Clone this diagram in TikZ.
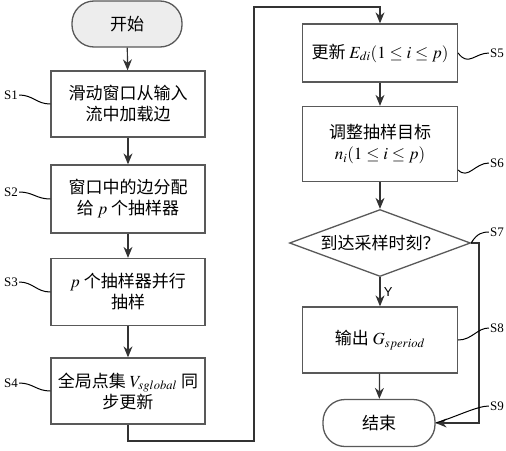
\documentclass[tikz,border=0pt]{standalone}
\usepackage{mathptmx}
\usepackage{fontspec}
\setmainfont{Liberation Serif}
\newfontfamily\cjk{Noto Sans CJK SC}
\newfontfamily\lsans{Liberation Sans}
\usetikzlibrary{positioning, arrows.meta, shapes.geometric}

\begin{document}
\begin{tikzpicture}[
                x=1pt, y=-1pt,
                >={Stealth[length=11pt, width=9pt]},
                line/.style={draw=black!80, line width=1.2pt},
                flow/.style={line, ->},
                proc/.style={rectangle, draw=black!65, line width=1.3pt, fill=white, minimum width=154pt,
                    align=center, inner sep=0pt, font=\cjk\fontsize{17}{21}\selectfont},
                term/.style={proc, rounded corners=22pt, minimum width=110pt, minimum height=46pt},
                decision/.style={proc, diamond, aspect=2.7, minimum width=181pt, minimum height=67pt},
                tag/.style={font=\fontsize{13}{15}\selectfont, inner sep=1pt},
                lead/.style={draw=black, line width=1pt},
            ]
                \useasboundingbox (0,0) rectangle (506,450);

                % Left column
                \node[term, fill=black!7] (start) at (127,24) {开始};
                \node[proc, minimum height=66pt] (b1) at (128,104) {滑动窗口从输入\\流中加载边};
                \node[proc, minimum height=68pt] (b2) at (128,199) {窗口中的边分配\\给 $p$ 个抽样器};
                \node[proc, minimum height=67pt] (b3) at (128,292) {$p$ 个抽样器并行\\抽样};
                \node[proc, minimum height=66pt] (b4) at (128,391) {全局点集 $V_{sglobal}$ 同\\步更新};

                % Right column
                \node[proc, minimum width=155pt, minimum height=58pt] (b5) at (380,53) {更新 $E_{di}(1\le i\le p)$};
                \node[proc, minimum width=155pt, minimum height=75pt] (b6) at (380,144) {调整抽样目标\\$n_i(1\le i\le p)$};
                \node[decision] (dec) at (380,243) {到达采样时刻？};
                \node[proc, minimum width=155pt, minimum height=66pt] (b8) at (380,340) {输出 $G_{speriod}$};
                \node[term, minimum width=112pt, minimum height=47pt] (stop) at (379,423) {结束};

                % Main flow
                \foreach \a/\b in {start/b1, b1/b2, b2/b3, b3/b4, b5/b6, b6/dec, b8/stop}
                    \draw[flow] (\a) -- (\b);
                \draw[flow] (dec) -- node[right, font=\lsans\fontsize{13}{15}\selectfont] {Y} (b8);

                % Jump from the left column to the right one
                \coordinate (c1) at (254,441);
                \coordinate (c2) at (254,7);
                \draw[flow] (b4.south) |- (c1) -- (c2) -| (b5.north);

                % No branch
                \coordinate (c3) at (479,243);
                \coordinate (c4) at (479,423);
                \draw[flow] (dec.east) -- (c3) -- (c4) -- (stop.east);

                % Step tags
                \foreach \name / \y in {1/95, 2/192, 3/282, 4/383}
                    \node[tag] (s\name) at (11,\y) {S\name};
                \foreach \name / \y in {5/53, 6/163, 7/232, 8/328, 9/406}
                    \node[tag] (s\name) at (497,\y) {S\name};

                \foreach \name in {1,2,3,4}
                    \draw[lead] (s\name.east) .. controls +(14,0) and +(-14,0) .. (b\name.west);
                \draw[lead] (b5.east) .. controls +(10,14) and +(-14,0) .. (s5.west);
                \draw[lead] ([yshift=-26pt]b6.east) .. controls +(10,10) and +(-14,0) .. (s6.west);
                \draw[lead] (dec.east) .. controls +(6,-10) and +(-6,0) .. (s7.west);
                \draw[lead] (b8.east) .. controls +(14,0) and +(-12,0) .. (s8.west);
                \draw[lead] (s9.west) .. controls +(-12,0) and +(20,-6) .. (stop.east);
            \end{tikzpicture}
\end{document}
